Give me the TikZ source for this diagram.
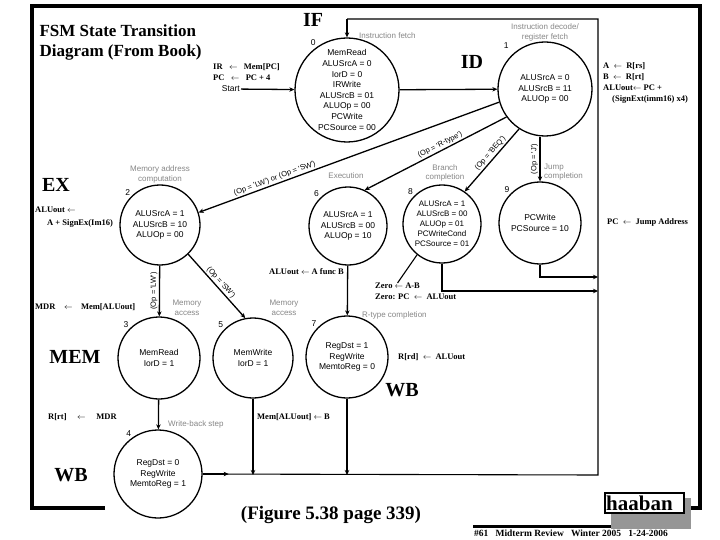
\documentclass[tikz,border=0pt]{standalone}
\usepackage{fontspec}
\setmainfont{Liberation Serif}
\setsansfont{Liberation Sans}
\usepackage{tikz}
\usetikzlibrary{arrows.meta,positioning}
\definecolor{phasegray}{RGB}{135,135,135}
\definecolor{shadowgray}{RGB}{150,150,150}
\newcommand{\opq}[1]{\textquotesingle#1\textquotesingle}

\begin{document}
\begin{tikzpicture}[
    x=1pt, y=-1pt,
    state/.style={circle, draw, line width=1.3pt, inner sep=0pt, align=center, font=\fontsize{8.5}{10.6}\selectfont\sffamily},
    phase/.style={text=phasegray, align=center, inner sep=1pt, font=\fontsize{8}{9.5}\selectfont\sffamily},
    cond/.style={inner sep=1.5pt, font=\fontsize{7.5}{9}\selectfont\sffamily},
    rtl/.style={anchor=west, align=left, inner sep=0pt, font=\fontsize{8.5}{10.7}\selectfont\bfseries},
    stage/.style={inner sep=0pt, font=\fontsize{20}{24}\selectfont\bfseries},
    num/.style={inner sep=1pt, font=\fontsize{8.5}{10}\selectfont\sffamily},
    trans/.style={->, line width=1.3pt},
    back/.style={line width=1.1pt},
    >={Stealth[length=5pt,width=4.5pt]}
]
    \fill[white] (0,0) rectangle (720,540);
    \useasboundingbox (0,0) rectangle (720,540);

    % slide frame
    \draw[line width=3.5pt] (105,508) -- (32,508) -- (32,6) -- (700,6) -- (700,508) -- (688,508);

    \node[anchor=west, align=left, font=\fontsize{17}{20}\selectfont\bfseries] (title) at (36,42) {FSM State Transition\\Diagram (From Book)};

    % states
    \node[state, minimum size=104pt, label={[num]125:0}] (s0) at (347,90) {MemRead\\ALUSrcA = 0\\IorD = 0\\IRWrite\\ALUSrcB = 01\\ALUOp = 00\\PCWrite\\PCSource = 00};
    \node[state, minimum size=94pt, label={[num, label distance=5pt]132:1}] (s1) at (545,89) {ALUSrcA = 0\\ALUSrcB = 11\\ALUOp = 00};
    \node[state, minimum size=80pt, label={[num]135:2}] (s2) at (160,225) {ALUSrcA = 1\\ALUSrcB = 10\\ALUOp = 00};
    \node[state, minimum size=78pt, label={[num]135:6}] (s6) at (348,226) {ALUSrcA = 1\\ALUSrcB = 00\\ALUOp = 10};
    \node[state, minimum size=78pt, font=\fontsize{8}{10}\selectfont\sffamily, label={[num]135:8}] (s8) at (442,224) {ALUSrcA = 1\\ALUSrcB = 00\\ALUOp = 01\\PCWriteCond\\PCSource = 01};
    \node[state, minimum size=82pt, label={[num]135:9}] (s9) at (540,223) {PCWrite\\PCSource = 10};
    \node[state, minimum size=82pt, label={[num]135:3}] (s3) at (159,358) {MemRead\\IorD = 1};
    \node[state, minimum size=80pt, label={[num]135:5}] (s5) at (253,358) {MemWrite\\IorD = 1};
    \node[state, minimum size=82pt, label={[num]135:7}] (s7) at (347,357) {RegDst = 1\\RegWrite\\MemtoReg = 0};
    \node[state, minimum size=88pt, label={[num]125:4}] (s4) at (158,474) {RegDst = 0\\RegWrite\\MemtoReg = 1};

    % phase names
    \node[phase, anchor=west] (ifetch) at (358,36) {Instruction fetch};
    \node[phase, above=-1pt of s1] (idecode) {Instruction decode/\\register fetch};
    \node[phase, above=0pt of s2] (memaddr) {Memory address\\computation};
    \node[phase] (exec) at (346,176) {Execution};
    \node[phase] (brcomp) at (445,173) {Branch\\completion};
    \node[phase, anchor=west, align=left] (jcomp) at (543,172) {Jump\\completion};
    \node[phase] (mem3) at (187,308) {Memory\\access};
    \node[phase] (mem5) at (284,308) {Memory\\access};
    \node[phase, anchor=west] (rcomp) at (361,315) {R-type completion};
    \node[phase, anchor=west] (wback) at (167,424) {Write-back step};

    % pipeline stages
    \node[stage] (stif) at (313,20) {IF};
    \node[stage] (stid) at (472,62) {ID};
    \node[stage] (stex) at (56,185) {EX};
    \node[stage] (stmem) at (75,357) {MEM};
    \node[stage] (stwb7) at (402,390) {WB};
    \node[stage] (stwb4) at (71,475) {WB};

    % register transfers
    \node[rtl] (irpc) at (213,72) {IR~~~$\leftarrow$~~~Mem[PC]\\PC~~~$\leftarrow$~~~PC + 4};
    \node[rtl] (regread) at (603,83) {A~~$\leftarrow$~~R[rs]\\B~~$\leftarrow$~~R[rt]\\ALUout$\leftarrow$ PC +\\\hspace*{9pt}(SignExt(imm16) x4)};
    \node[rtl] (aluaddr) at (35,217) {ALUout~$\leftarrow$\\[2pt]\hspace*{12pt}A + SignEx(Im16)};
    \node[rtl, anchor=east] (alufunc) at (344,272) {ALUout~$\leftarrow$~A func B};
    \node[rtl] (zeroab) at (375,286) {Zero~$\leftarrow$~A-B};
    \node[rtl] (zeropc) at (375,297) {Zero: PC~~$\leftarrow$~~ALUout};
    \node[rtl] (jumpaddr) at (607,222) {PC~~$\leftarrow$~~Jump Address};
    \node[rtl] (mdrread) at (35,307) {MDR~~~~$\leftarrow$~~~~Mem[ALUout]};
    \node[rtl] (rdwrite) at (398,357) {R[rd]~~$\leftarrow$~~ALUout};
    \node[rtl] (rtwrite) at (48,417) {R[rt]~~~~~$\leftarrow$~~~~~MDR};
    \node[rtl] (memwrite) at (257,417) {Mem[ALUout]~$\leftarrow$~B};

    \node[num, anchor=east] (start) at (241,89) {Start};

    % transitions
    \draw[trans] (start) -- (s0);
    \draw[trans] (s0) -- (s1);
    \draw[trans] (s1.196) -- node[cond, sloped, above, pos=0.74] {(Op = \opq{LW}) or (Op = \opq{SW})} (s2.18);
    \draw[trans] (s1.216) -- node[cond, sloped, above, pos=0.45] {(Op = \opq{R-type})} (s6.65);
    \draw[trans] (s1.237) -- node[cond, sloped, above, pos=0.45] {(Op = \opq{BEQ})} (s8.55);
    \draw[trans] (s9 |- s1.south) -- node[cond, rotate=90, anchor=south] {(Op = \opq{J})} (s9);
    \draw[trans] (s2) -- node[cond, rotate=90, anchor=south] {(Op = \opq{LW})} (s3);
    \draw[trans] (s2.314) -- node[cond, sloped, above] {(Op = \opq{SW})} (s5.101);
    \draw[trans] (s6) -- (s7);
    \draw[trans] (s3) -- (s4);
    \draw[line width=1.1pt] (s8.231) -- (zeroab.north);

    % back to fetch
    \coordinate (rb) at (598,475);
    \coordinate (rt) at (598,19);
    \coordinate (lt) at (347,19);
    \coordinate (j9) at (598,277);
    \coordinate (j8) at (598,291);
    \draw[back] (s4.east) -- (rb) -- (rt) -- (lt);
    \draw[back, ->] (lt) -- (s0.north);
    \draw[back, ->] (s4.east) -- ++(26,0);
    \draw[back, ->] (s5.south) -- (s5.south |- rb);
    \draw[back, ->] (s7.south) -- (s7.south |- rb);
    \draw[back, ->] (s9.south) |- (j9);
    \draw[back, ->] (s8.south) |- (j8);

    % caption and footer
    \node[font=\fontsize{19}{22}\selectfont\bfseries] (figcap) at (331,515) {(Figure 5.38 page 339)};
    \fill[shadowgray] (611,498) rectangle (691,529);
    \draw[line width=3pt] (473,526) -- (611,526);
    \draw[line width=1.5pt, fill=white] (605,493) rectangle (684,513);
    \node[anchor=west, inner sep=0pt, font=\fontsize{21}{24}\selectfont\bfseries] (namebox) at (606,503) {haaban};
    \node[anchor=west, inner sep=0pt, font=\fontsize{9.5}{10}\selectfont\bfseries] (footer) at (474,533) {\#61~~ Midterm Review~~ Winter 2005~~ 1-24-2006};
\end{tikzpicture}
\end{document}
